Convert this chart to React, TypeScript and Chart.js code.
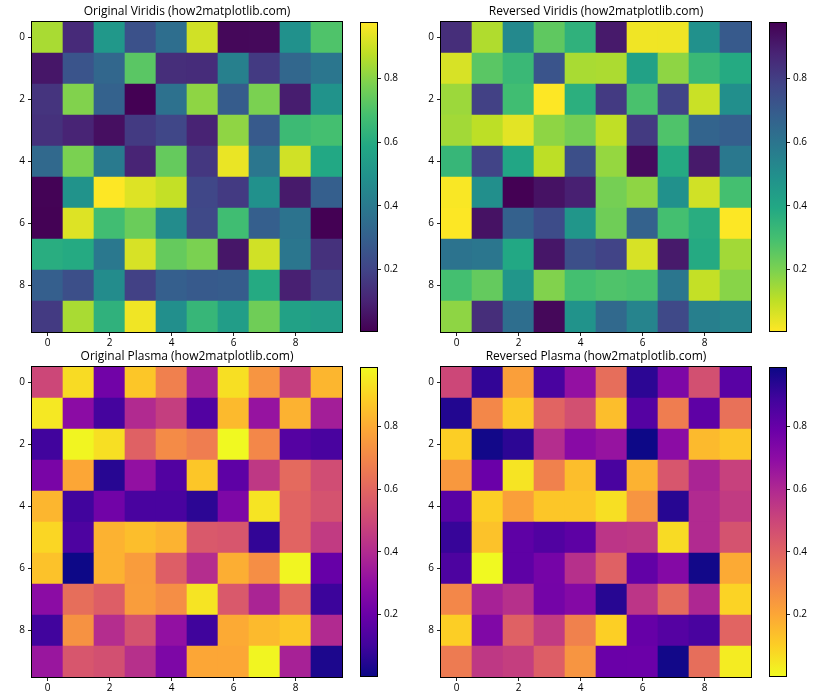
import React, { useEffect, useRef } from 'react';
import { Chart, registerables } from 'chart.js';

Chart.register(...registerables);

// ---------- data ----------
const axisTicks = [0, 2, 4, 6, 8];
const colorbarTicks = [0.2, 0.4, 0.6, 0.8];

// data shown with viridis / viridis_r (rows top to bottom, columns left to right)
const valuesA = [
  [0.849, 0.122, 0.520, 0.248, 0.355, 0.907, 0.025, 0.027, 0.491, 0.704],
  [0.064, 0.258, 0.326, 0.723, 0.132, 0.128, 0.423, 0.171, 0.326, 0.384],
  [0.151, 0.791, 0.307, 0.006, 0.365, 0.810, 0.287, 0.781, 0.084, 0.500],
  [0.142, 0.103, 0.045, 0.171, 0.209, 0.099, 0.811, 0.277, 0.665, 0.684],
  [0.335, 0.781, 0.403, 0.103, 0.743, 0.161, 0.946, 0.384, 0.907, 0.587],
  [0.012, 0.500, 0.975, 0.927, 0.888, 0.209, 0.171, 0.491, 0.074, 0.297],
  [0.008, 0.927, 0.675, 0.752, 0.471, 0.219, 0.674, 0.297, 0.374, 0.007],
  [0.607, 0.597, 0.394, 0.917, 0.743, 0.781, 0.064, 0.907, 0.384, 0.142],
  [0.297, 0.239, 0.471, 0.190, 0.296, 0.277, 0.287, 0.597, 0.093, 0.180],
  [0.171, 0.849, 0.626, 0.956, 0.481, 0.646, 0.539, 0.762, 0.559, 0.540],
];

// data shown with plasma / plasma_r
const valuesB = [
  [0.496, 0.918, 0.220, 0.869, 0.681, 0.368, 0.928, 0.741, 0.466, 0.830],
  [0.948, 0.289, 0.112, 0.397, 0.466, 0.142, 0.840, 0.319, 0.820, 0.358],
  [0.102, 0.977, 0.928, 0.584, 0.712, 0.672, 0.987, 0.702, 0.151, 0.122],
  [0.240, 0.790, 0.053, 0.309, 0.142, 0.869, 0.171, 0.446, 0.613, 0.515],
  [0.830, 0.102, 0.220, 0.122, 0.121, 0.063, 0.250, 0.938, 0.594, 0.535],
  [0.908, 0.132, 0.820, 0.850, 0.822, 0.555, 0.545, 0.073, 0.594, 0.456],
  [0.859, 0.004, 0.820, 0.761, 0.574, 0.407, 0.810, 0.722, 0.977, 0.191],
  [0.289, 0.623, 0.574, 0.763, 0.720, 0.938, 0.555, 0.377, 0.603, 0.092],
  [0.103, 0.732, 0.407, 0.535, 0.309, 0.100, 0.800, 0.840, 0.869, 0.397],
  [0.328, 0.545, 0.525, 0.417, 0.250, 0.791, 0.789, 0.977, 0.368, 0.033],
];

const titles = [
  'Original Viridis (how2matplotlib.com)',
  'Reversed Viridis (how2matplotlib.com)',
  'Original Plasma (how2matplotlib.com)',
  'Reversed Plasma (how2matplotlib.com)',
];

// ---------- colormaps ----------
const VIRIDIS = ['#440154', '#482475', '#414487', '#355f8d', '#2a788e', '#21918c', '#22a884', '#44bf70', '#7ad151', '#bddf26', '#fde725'];
const PLASMA = ['#0d0887', '#41049d', '#6a00a8', '#8f0da4', '#b12a90', '#cc4778', '#e16462', '#f2844b', '#fca636', '#fcce25', '#f0f921'];

function hexToRgb(h: string) {
  const n = parseInt(h.slice(1), 16);
  return [(n >> 16) & 255, (n >> 8) & 255, n & 255];
}

function cmap(stops: string[], t: number) {
  const tt = Math.max(0, Math.min(1, t));
  const x = tt * (stops.length - 1);
  const i = Math.min(stops.length - 2, Math.floor(x));
  const f = x - i;
  const a = hexToRgb(stops[i]);
  const b = hexToRgb(stops[i + 1]);
  const c = a.map((v, k) => Math.round(v + (b[k] - v) * f));
  return `rgb(${c[0]},${c[1]},${c[2]})`;
}

const FONT = "'Open Sans', 'DejaVu Sans', sans-serif";
const TEXT = '#000';

const framePlugin = {
  id: 'frame',
  afterDraw(chart: any) {
    const { ctx, chartArea: a } = chart;
    ctx.save();
    ctx.strokeStyle = '#000';
    ctx.lineWidth = 1;
    ctx.strokeRect(a.left - 0.5, a.top - 0.5, a.width + 1, a.height + 1);
    ctx.restore();
  },
};

function tickAxis(extra: any) {
  return {
    grid: { display: true, drawOnChartArea: false, drawTicks: true, tickLength: 4, color: '#222', offset: false },
    border: { display: false },
    ...extra,
  };
}

function heatmapConfig(values: number[][], stops: string[], reversed: boolean, title: string) {
  const flat = values.flat();
  const vmin = Math.min(...flat);
  const vmax = Math.max(...flat);
  const points: any[] = [];
  const colors: string[] = [];
  values.forEach((row, r) =>
    row.forEach((v, c) => {
      points.push({ x: c, y: [r - 0.5, r + 0.5] });
      let t = (v - vmin) / (vmax - vmin);
      if (reversed) t = 1 - t;
      colors.push(cmap(stops, t));
    })
  );
  return {
    type: 'bar',
    data: {
      datasets: [
        {
          data: points,
          backgroundColor: colors,
          borderWidth: 0,
          barPercentage: 1,
          categoryPercentage: 1,
        },
      ],
    },
    options: {
      responsive: false,
      animation: false,
      events: [],
      layout: { padding: { left: 0, right: 8, top: 0, bottom: 0 } },
      plugins: {
        legend: { display: false },
        tooltip: { enabled: false },
        title: {
          display: true,
          text: title,
          fullSize: false,
          color: TEXT,
          font: { family: FONT, size: 12, weight: 'normal', lineHeight: 1.2 },
          padding: { top: 4, bottom: 3.6 },
        },
      },
      scales: {
        x: tickAxis({
          type: 'linear',
          min: -0.5,
          max: 9.5,
          offset: false,
          afterBuildTicks: (s: any) => {
            s.ticks = axisTicks.map((v) => ({ value: v }));
          },
          afterFit: (s: any) => {
            s.height = 18;
          },
          ticks: { font: { family: FONT, size: 10 }, color: TEXT, padding: 1.5, maxRotation: 0, autoSkip: false },
        }),
        y: tickAxis({
          type: 'linear',
          reverse: true,
          min: -0.5,
          max: 9.5,
          afterBuildTicks: (s: any) => {
            s.ticks = axisTicks.map((v) => ({ value: v }));
          },
          afterFit: (s: any) => {
            s.width = 32;
          },
          ticks: { font: { family: FONT, size: 10 }, color: TEXT, padding: 3, autoSkip: false },
        }),
      },
    },
    plugins: [framePlugin],
  };
}

function colorbarConfig(values: number[][], stops: string[], reversed: boolean) {
  const flat = values.flat();
  const vmin = Math.min(...flat);
  const vmax = Math.max(...flat);
  const order = reversed ? [...stops].reverse() : stops;
  return {
    type: 'bar',
    data: {
      labels: ['cb'],
      datasets: [
        {
          data: [[vmin, vmax]],
          backgroundColor: (ctx: any) => {
            const area = ctx.chart.chartArea;
            if (!area) return order[0];
            const g = ctx.chart.ctx.createLinearGradient(0, area.bottom, 0, area.top);
            order.forEach((c, i) => g.addColorStop(i / (order.length - 1), c));
            return g;
          },
          borderWidth: 0,
          barPercentage: 1,
          categoryPercentage: 1,
        },
      ],
    },
    options: {
      responsive: false,
      animation: false,
      events: [],
      layout: { padding: { left: 5, right: 0, top: 23, bottom: 19 } },
      plugins: { legend: { display: false }, tooltip: { enabled: false }, title: { display: false } },
      scales: {
        x: { display: false },
        y: tickAxis({
          type: 'linear',
          position: 'right',
          min: vmin,
          max: vmax,
          afterBuildTicks: (s: any) => {
            s.ticks = colorbarTicks.map((v) => ({ value: v }));
          },
          afterFit: (s: any) => {
            s.width = 29;
          },
          ticks: {
            font: { family: FONT, size: 10 },
            color: TEXT,
            padding: 3,
            callback: (v: any) => Number(v).toFixed(1),
          },
        }),
      },
    },
    plugins: [framePlugin],
  };
}

function ChartCanvas({ make, left, top, width, height }: any) {
  const ref = useRef<HTMLCanvasElement | null>(null);
  useEffect(() => {
    const chart = new Chart(ref.current as HTMLCanvasElement, make() as any);
    return () => chart.destroy();
  }, []);
  return (
    <canvas
      ref={ref}
      width={width}
      height={height}
      style={{ position: 'absolute', left, top, width, height, display: 'block' }}
    />
  );
}

const panels = [
  { values: valuesA, stops: VIRIDIS, reversed: false, title: titles[0], left: 0, top: 0 },
  { values: valuesA, stops: VIRIDIS, reversed: true, title: titles[1], left: 409, top: 0 },
  { values: valuesB, stops: PLASMA, reversed: false, title: titles[2], left: 0, top: 345 },
  { values: valuesB, stops: PLASMA, reversed: true, title: titles[3], left: 409, top: 345 },
];

export default function App() {
  return (
    <div style={{ position: 'absolute', left: 0, top: 0, width: 840, height: 700, background: '#fff' }}>
      {panels.map((p, i) => (
        <React.Fragment key={i}>
          <ChartCanvas
            make={() => heatmapConfig(p.values, p.stops, p.reversed, p.title)}
            left={p.left}
            top={p.top}
            width={350}
            height={350}
          />
          <ChartCanvas
            make={() => colorbarConfig(p.values, p.stops, p.reversed)}
            left={p.left + 356}
            top={p.top}
            width={50}
            height={350}
          />
        </React.Fragment>
      ))}
    </div>
  );
}
